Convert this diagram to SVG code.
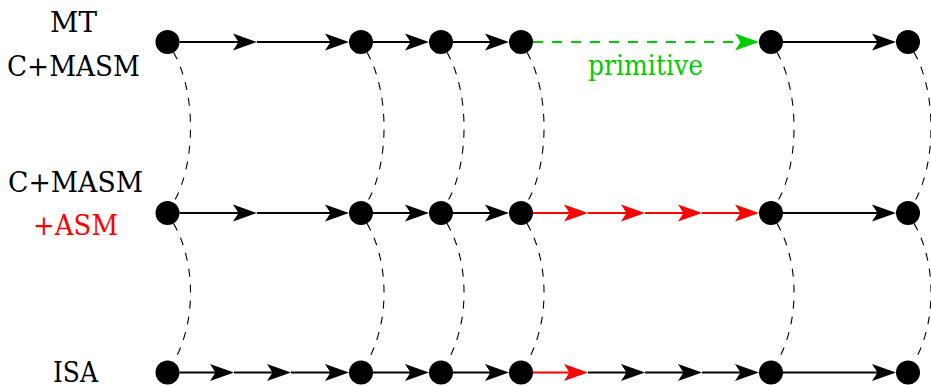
<svg xmlns="http://www.w3.org/2000/svg" width="931" height="386" viewBox="0 0 931 386">
<defs>
<style>
.e{stroke:#000;stroke-width:2;fill:none}
.r{stroke:#ff0000}
.g{stroke:#00cc00;stroke-dasharray:10 9}
.c{stroke:#000;stroke-width:1.1;fill:none;stroke-dasharray:8 8}
.n{fill:#000}
</style>
<marker id="ak" markerUnits="userSpaceOnUse" markerWidth="30" markerHeight="20" viewBox="-15 -10 30 20" refX="0" refY="0" orient="auto" overflow="visible"><path d="M10,0 L-14,-8.5 L-8.5,0 L-14,8.5Z" fill="#000"/></marker>
<marker id="ar" markerUnits="userSpaceOnUse" markerWidth="30" markerHeight="20" viewBox="-15 -10 30 20" refX="0" refY="0" orient="auto" overflow="visible"><path d="M10,0 L-14,-8.5 L-8.5,0 L-14,8.5Z" fill="#ff0000"/></marker>
<marker id="ag" markerUnits="userSpaceOnUse" markerWidth="30" markerHeight="20" viewBox="-15 -10 30 20" refX="0" refY="0" orient="auto" overflow="visible"><path d="M10,0 L-14,-8.5 L-8.5,0 L-14,8.5Z" fill="#00cc00"/></marker>
</defs>
<g id="labels" font-family="'DejaVu Serif', 'Liberation Serif', serif" font-size="27" text-anchor="middle">
<text x="73.5" y="32" textLength="47" lengthAdjust="spacingAndGlyphs">MT</text>
<text x="73.5" y="76" textLength="133" lengthAdjust="spacingAndGlyphs">C+MASM</text>
<text x="75.5" y="192" textLength="135" lengthAdjust="spacingAndGlyphs">C+MASM</text>
<text x="75.5" y="235" fill="#ff0000" textLength="85" lengthAdjust="spacingAndGlyphs">+ASM</text>
<text x="75.5" y="382" textLength="45" lengthAdjust="spacingAndGlyphs">ISA</text>
<text x="645.5" y="75" fill="#00cc00" textLength="115" lengthAdjust="spacingAndGlyphs">primitive</text>
</g>
<g id="connectors">
<g id="bends">
<path class="c" d="M173.5,52.4 C196.2,91.7 196.2,163.3 173.5,202.6"/>
<path class="c" d="M173.5,223.4 C196.2,262.7 196.2,322.8 173.5,362.1"/>
<path class="c" d="M367,52.4 C389.7,91.7 389.7,163.3 367,202.6"/>
<path class="c" d="M367,223.4 C389.7,262.7 389.7,322.8 367,362.1"/>
<path class="c" d="M447,52.4 C469.7,91.7 469.7,163.3 447,202.6"/>
<path class="c" d="M447,223.4 C469.7,262.7 469.7,322.8 447,362.1"/>
<path class="c" d="M527,52.4 C549.7,91.7 549.7,163.3 527,202.6"/>
<path class="c" d="M527,223.4 C549.7,262.7 549.7,322.8 527,362.1"/>
<path class="c" d="M777,52.4 C799.7,91.7 799.7,163.3 777,202.6"/>
<path class="c" d="M777,223.4 C799.7,262.7 799.7,322.8 777,362.1"/>
<path class="c" d="M914,52.4 C936.7,91.7 936.7,163.3 914,202.6"/>
<path class="c" d="M914,223.4 C936.7,262.7 936.7,322.8 914,362.1"/>
</g>
<g id="row-mt">
<path class="e" marker-end="url(#ak)" d="M179.5,42 H247"/>
<path class="e" marker-end="url(#ak)" d="M257,42 H339"/>
<path class="e" marker-end="url(#ak)" d="M373,42 H419"/>
<path class="e" marker-end="url(#ak)" d="M453,42 H499"/>
<path class="e g" marker-end="url(#ag)" d="M533,42 H749"/>
<path class="e" marker-end="url(#ak)" d="M783,42 H886"/>
</g>
<g id="row-asm">
<path class="e" marker-end="url(#ak)" d="M179.5,213 H247"/>
<path class="e" marker-end="url(#ak)" d="M257,213 H339"/>
<path class="e" marker-end="url(#ak)" d="M373,213 H419"/>
<path class="e" marker-end="url(#ak)" d="M453,213 H499"/>
<path class="e r" marker-end="url(#ar)" d="M533,213 H578"/>
<path class="e r" marker-end="url(#ar)" d="M588,213 H635"/>
<path class="e r" marker-end="url(#ar)" d="M645,213 H692"/>
<path class="e r" marker-end="url(#ar)" d="M702,213 H749"/>
<path class="e" marker-end="url(#ak)" d="M783,213 H886"/>
</g>
<g id="row-isa">
<path class="e" marker-end="url(#ak)" d="M179.5,372.5 H224"/>
<path class="e" marker-end="url(#ak)" d="M234,372.5 H281"/>
<path class="e" marker-end="url(#ak)" d="M291,372.5 H339"/>
<path class="e" marker-end="url(#ak)" d="M373,372.5 H419"/>
<path class="e" marker-end="url(#ak)" d="M453,372.5 H499"/>
<path class="e r" marker-end="url(#ar)" d="M533,372.5 H578"/>
<path class="e" marker-end="url(#ak)" d="M588,372.5 H635"/>
<path class="e" marker-end="url(#ak)" d="M645,372.5 H692"/>
<path class="e" marker-end="url(#ak)" d="M702,372.5 H749"/>
<path class="e" marker-end="url(#ak)" d="M783,372.5 H886"/>
</g>
</g>
<g id="nodes">
<g id="n-mt-1"><circle class="n" cx="167.5" cy="42" r="12"/></g>
<g id="n-mt-2"><circle class="n" cx="361" cy="42" r="12"/></g>
<g id="n-mt-3"><circle class="n" cx="441" cy="42" r="12"/></g>
<g id="n-mt-4"><circle class="n" cx="521" cy="42" r="12"/></g>
<g id="n-mt-5"><circle class="n" cx="771" cy="42" r="12"/></g>
<g id="n-mt-6"><circle class="n" cx="908" cy="42" r="12"/></g>
<g id="n-asm-1"><circle class="n" cx="167.5" cy="213" r="12"/></g>
<g id="n-asm-2"><circle class="n" cx="361" cy="213" r="12"/></g>
<g id="n-asm-3"><circle class="n" cx="441" cy="213" r="12"/></g>
<g id="n-asm-4"><circle class="n" cx="521" cy="213" r="12"/></g>
<g id="n-asm-5"><circle class="n" cx="771" cy="213" r="12"/></g>
<g id="n-asm-6"><circle class="n" cx="908" cy="213" r="12"/></g>
<g id="n-isa-1"><circle class="n" cx="167.5" cy="372.5" r="12"/></g>
<g id="n-isa-2"><circle class="n" cx="361" cy="372.5" r="12"/></g>
<g id="n-isa-3"><circle class="n" cx="441" cy="372.5" r="12"/></g>
<g id="n-isa-4"><circle class="n" cx="521" cy="372.5" r="12"/></g>
<g id="n-isa-5"><circle class="n" cx="771" cy="372.5" r="12"/></g>
<g id="n-isa-6"><circle class="n" cx="908" cy="372.5" r="12"/></g>
</g>
</svg>
